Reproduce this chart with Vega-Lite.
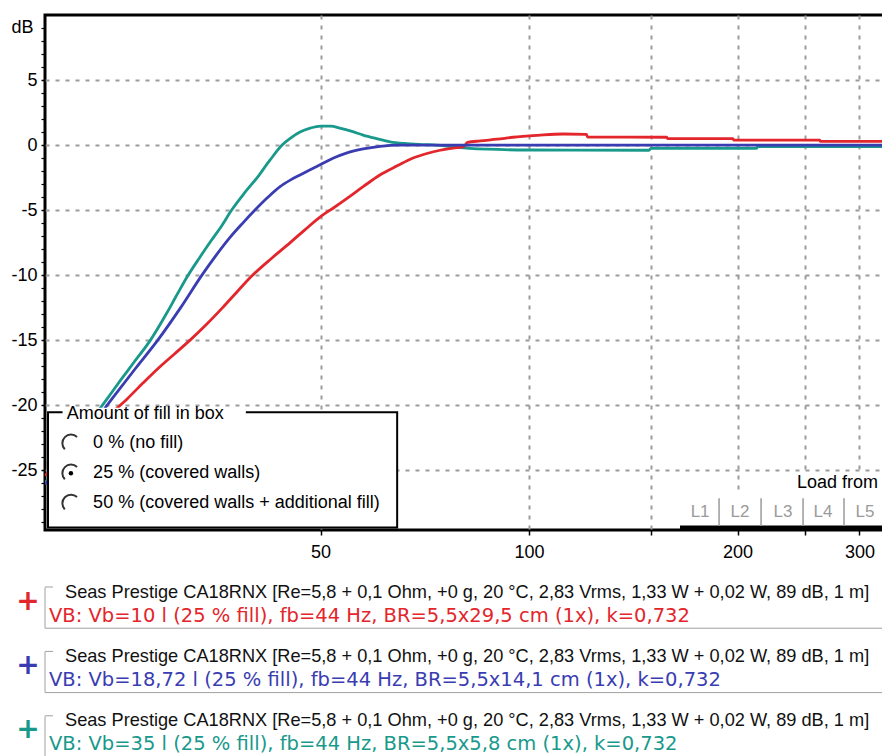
{
  "$schema": "https://vega.github.io/schema/vega-lite/v6.json",
  "width": 840,
  "height": 515,
  "padding": {"left": 45, "top": 15, "right": 0, "bottom": 226},
  "autosize": {"type": "none"},
  "background": "#ffffff",
  "config": {
    "font": "Liberation Sans",
    "view": {"stroke": "#000000", "strokeWidth": 3}
  },
  "datasets": {
    "curves": [
      {"s": "Vb=35 l", "f": 20, "db": -26.0}, {"s": "Vb=35 l", "f": 21, "db": -24.5}, {"s": "Vb=35 l", "f": 22, "db": -23.0},
      {"s": "Vb=35 l", "f": 23.3, "db": -21.2}, {"s": "Vb=35 l", "f": 24.6, "db": -19.5}, {"s": "Vb=35 l", "f": 25.7, "db": -18.1},
      {"s": "Vb=35 l", "f": 26.8, "db": -16.8}, {"s": "Vb=35 l", "f": 28.4, "db": -15.0}, {"s": "Vb=35 l", "f": 30.0, "db": -12.9},
      {"s": "Vb=35 l", "f": 31.1, "db": -11.4}, {"s": "Vb=35 l", "f": 32.2, "db": -10.0}, {"s": "Vb=35 l", "f": 33.4, "db": -8.7},
      {"s": "Vb=35 l", "f": 34.7, "db": -7.4}, {"s": "Vb=35 l", "f": 36.0, "db": -6.2}, {"s": "Vb=35 l", "f": 37.2, "db": -5.0},
      {"s": "Vb=35 l", "f": 38.8, "db": -3.7}, {"s": "Vb=35 l", "f": 40.5, "db": -2.5}, {"s": "Vb=35 l", "f": 42.2, "db": -1.2},
      {"s": "Vb=35 l", "f": 44.0, "db": 0.0}, {"s": "Vb=35 l", "f": 45.3, "db": 0.55}, {"s": "Vb=35 l", "f": 46.7, "db": 1.0},
      {"s": "Vb=35 l", "f": 48.3, "db": 1.3}, {"s": "Vb=35 l", "f": 50.0, "db": 1.46}, {"s": "Vb=35 l", "f": 51.7, "db": 1.45},
      {"s": "Vb=35 l", "f": 53.3, "db": 1.3}, {"s": "Vb=35 l", "f": 55.5, "db": 1.05}, {"s": "Vb=35 l", "f": 57.6, "db": 0.77},
      {"s": "Vb=35 l", "f": 60.2, "db": 0.5}, {"s": "Vb=35 l", "f": 63.0, "db": 0.25}, {"s": "Vb=35 l", "f": 66.0, "db": 0.12},
      {"s": "Vb=35 l", "f": 70.0, "db": 0.04}, {"s": "Vb=35 l", "f": 73.6, "db": 0.0}, {"s": "Vb=35 l", "f": 77.0, "db": -0.12},
      {"s": "Vb=35 l", "f": 82.0, "db": -0.25}, {"s": "Vb=35 l", "f": 87.0, "db": -0.32}, {"s": "Vb=35 l", "f": 100, "db": -0.38},
      {"s": "Vb=35 l", "f": 149, "db": -0.4}, {"s": "Vb=35 l", "f": 150, "db": -0.25}, {"s": "Vb=35 l", "f": 213, "db": -0.25},
      {"s": "Vb=35 l", "f": 214, "db": -0.12}, {"s": "Vb=35 l", "f": 330, "db": -0.12},

      {"s": "Vb=10 l", "f": 20, "db": -25.4}, {"s": "Vb=10 l", "f": 21.5, "db": -23.9}, {"s": "Vb=10 l", "f": 23, "db": -22.4},
      {"s": "Vb=10 l", "f": 24.6, "db": -20.9}, {"s": "Vb=10 l", "f": 26.3, "db": -19.5}, {"s": "Vb=10 l", "f": 27.7, "db": -18.3},
      {"s": "Vb=10 l", "f": 29.1, "db": -17.2}, {"s": "Vb=10 l", "f": 30.7, "db": -16.1}, {"s": "Vb=10 l", "f": 32.4, "db": -15.0},
      {"s": "Vb=10 l", "f": 34.2, "db": -13.8}, {"s": "Vb=10 l", "f": 36.1, "db": -12.5}, {"s": "Vb=10 l", "f": 38.0, "db": -11.2},
      {"s": "Vb=10 l", "f": 39.9, "db": -10.0}, {"s": "Vb=10 l", "f": 42.5, "db": -8.7}, {"s": "Vb=10 l", "f": 45.2, "db": -7.5},
      {"s": "Vb=10 l", "f": 47.5, "db": -6.5}, {"s": "Vb=10 l", "f": 50.0, "db": -5.5}, {"s": "Vb=10 l", "f": 52.3, "db": -4.8},
      {"s": "Vb=10 l", "f": 54.6, "db": -4.1}, {"s": "Vb=10 l", "f": 57.6, "db": -3.2}, {"s": "Vb=10 l", "f": 60.9, "db": -2.3},
      {"s": "Vb=10 l", "f": 64.5, "db": -1.6}, {"s": "Vb=10 l", "f": 68.0, "db": -1.0}, {"s": "Vb=10 l", "f": 71.2, "db": -0.65},
      {"s": "Vb=10 l", "f": 74.4, "db": -0.4}, {"s": "Vb=10 l", "f": 78.7, "db": -0.2}, {"s": "Vb=10 l", "f": 80.5, "db": -0.12},
      {"s": "Vb=10 l", "f": 81.5, "db": 0.2}, {"s": "Vb=10 l", "f": 85, "db": 0.32}, {"s": "Vb=10 l", "f": 90, "db": 0.45},
      {"s": "Vb=10 l", "f": 94.8, "db": 0.6}, {"s": "Vb=10 l", "f": 103, "db": 0.75}, {"s": "Vb=10 l", "f": 112, "db": 0.85},
      {"s": "Vb=10 l", "f": 121, "db": 0.82}, {"s": "Vb=10 l", "f": 121.5, "db": 0.62}, {"s": "Vb=10 l", "f": 158, "db": 0.6},
      {"s": "Vb=10 l", "f": 158.5, "db": 0.5}, {"s": "Vb=10 l", "f": 197, "db": 0.5}, {"s": "Vb=10 l", "f": 197.5, "db": 0.38},
      {"s": "Vb=10 l", "f": 263, "db": 0.38}, {"s": "Vb=10 l", "f": 263.5, "db": 0.28}, {"s": "Vb=10 l", "f": 330, "db": 0.28},

      {"s": "Vb=18,72 l", "f": 20, "db": -26.1}, {"s": "Vb=18,72 l", "f": 21, "db": -24.7}, {"s": "Vb=18,72 l", "f": 22, "db": -23.3},
      {"s": "Vb=18,72 l", "f": 23.5, "db": -21.4}, {"s": "Vb=18,72 l", "f": 25.0, "db": -19.5}, {"s": "Vb=18,72 l", "f": 27.0, "db": -17.2},
      {"s": "Vb=18,72 l", "f": 29.1, "db": -15.0}, {"s": "Vb=18,72 l", "f": 31.4, "db": -12.5}, {"s": "Vb=18,72 l", "f": 33.7, "db": -10.0},
      {"s": "Vb=18,72 l", "f": 35.3, "db": -8.5}, {"s": "Vb=18,72 l", "f": 37.0, "db": -7.1}, {"s": "Vb=18,72 l", "f": 38.6, "db": -6.0},
      {"s": "Vb=18,72 l", "f": 40.2, "db": -5.0}, {"s": "Vb=18,72 l", "f": 42.0, "db": -4.0}, {"s": "Vb=18,72 l", "f": 43.7, "db": -3.2},
      {"s": "Vb=18,72 l", "f": 45.2, "db": -2.7}, {"s": "Vb=18,72 l", "f": 46.7, "db": -2.3}, {"s": "Vb=18,72 l", "f": 48.3, "db": -1.9},
      {"s": "Vb=18,72 l", "f": 50.0, "db": -1.5}, {"s": "Vb=18,72 l", "f": 52.2, "db": -1.0}, {"s": "Vb=18,72 l", "f": 54.6, "db": -0.6},
      {"s": "Vb=18,72 l", "f": 57.6, "db": -0.3}, {"s": "Vb=18,72 l", "f": 60.9, "db": -0.1}, {"s": "Vb=18,72 l", "f": 65, "db": 0.0},
      {"s": "Vb=18,72 l", "f": 330, "db": 0.0}
    ],
    "box": [{"f": 20.2, "f2": 64.5, "db": -20.54, "db2": -29.4}],
    "titlebg": [{"f": 21.2, "f2": 39.0, "db": -20.2, "db2": -20.9}],
    "boxtitle": [{"f": 21.5, "db": -20.65, "t": "Amount of fill in box"}],
    "options": [
      {"f": 23.47, "db": -22.92, "t": "0 % (no fill)"},
      {"f": 23.47, "db": -25.23, "t": "25 % (covered walls)"},
      {"f": 23.47, "db": -27.54, "t": "50 % (covered walls + additional fill)"}
    ],
    "radios": [{"f": 21.8, "db": -22.92}, {"f": 21.8, "db": -25.23}, {"f": 21.8, "db": -27.54}],
    "radiosel": [{"f": 21.8, "db": -25.23}],
    "tabbg": [
      {"f": 238, "f2": 340, "db": -25.2, "db2": -26.9},
      {"f": 165.2, "f2": 340, "db": -26.9, "db2": -29.5}
    ],
    "tabbar": [{"f": 165.2, "f2": 340, "db": -29.25, "db2": -29.6}],
    "tabsep": [
      {"f": 188.1, "db": -27.15, "db2": -29.3}, {"f": 216.3, "db": -27.15, "db2": -29.3},
      {"f": 248.7, "db": -27.15, "db2": -29.3}, {"f": 285.0, "db": -27.15, "db2": -29.3}
    ],
    "tabs": [
      {"f": 176.6, "db": -28.2, "t": "L1"}, {"f": 201.7, "db": -28.2, "t": "L2"}, {"f": 232.7, "db": -28.2, "t": "L3"},
      {"f": 265.8, "db": -28.2, "t": "L4"}, {"f": 305.6, "db": -28.2, "t": "L5"}
    ],
    "loadfrom": [{"f": 243.8, "db": -26.0, "t": "Load from"}],
    "legend": [
      {"e": 1, "s": "Vb=10 l", "head": "Seas Prestige CA18RNX [Re=5,8 + 0,1 Ohm, +0 g, 20 °C, 2,83 Vrms, 1,33 W + 0,02 W, 89 dB, 1 m]", "det": "VB: Vb=10 l (25 % fill), fb=44 Hz, BR=5,5x29,5 cm (1x), k=0,732"},
      {"e": 2, "s": "Vb=18,72 l", "head": "Seas Prestige CA18RNX [Re=5,8 + 0,1 Ohm, +0 g, 20 °C, 2,83 Vrms, 1,33 W + 0,02 W, 89 dB, 1 m]", "det": "VB: Vb=18,72 l (25 % fill), fb=44 Hz, BR=5,5x14,1 cm (1x), k=0,732"},
      {"e": 3, "s": "Vb=35 l", "head": "Seas Prestige CA18RNX [Re=5,8 + 0,1 Ohm, +0 g, 20 °C, 2,83 Vrms, 1,33 W + 0,02 W, 89 dB, 1 m]", "det": "VB: Vb=35 l (25 % fill), fb=44 Hz, BR=5,5x5,8 cm (1x), k=0,732"}
    ]
  },
  "layer": [
    {
      "resolve": {"axis": {"y": "independent"}},
      "layer": [
        {
          "data": {"name": "curves"},
          "mark": {"type": "line", "strokeWidth": 2.8, "clip": true, "interpolate": "monotone"},
          "encoding": {
            "x": {
              "field": "f", "type": "quantitative",
              "scale": {"type": "log", "domain": [20, 326.6], "nice": false},
              "axis": {
                "title": null,
                "values": [50, 100, 150, 200, 250, 300],
                "labelExpr": "datum.value == 150 || datum.value == 250 ? '' : '' + datum.value",
                "labelFont": "Liberation Sans", "labelFontSize": 18, "labelColor": "#000000", "labelPadding": 8,
                "labelOverlap": false,
                "tickSize": 5, "tickColor": "#000000", "tickWidth": 1.5,
                "domain": false,
                "grid": true, "gridColor": "#9c9c9c", "gridDash": [4, 6], "gridWidth": 2
              }
            },
            "y": {
              "field": "db", "type": "quantitative",
              "scale": {"domain": [-29.6, 10], "nice": false, "zero": false},
              "axis": {
                "orient": "left",
                "title": "dB", "titleAngle": 0, "titleX": -34, "titleY": 12, "titleAlign": "left", "titleBaseline": "middle",
                "titleFont": "Liberation Sans", "titleFontSize": 18, "titleFontWeight": "normal", "titleColor": "#000000",
                "values": [-25, -20, -15, -10, -5, 0, 5],
                "labelExpr": "'' + datum.value",
                "labelFont": "Liberation Sans", "labelFontSize": 18, "labelColor": "#000000", "labelPadding": 4,
                "labelOverlap": false,
                "tickSize": 4, "tickColor": "#000000", "tickWidth": 1.5,
                "domain": false,
                "grid": true, "gridColor": "#9c9c9c", "gridDash": [4, 6], "gridWidth": 2
              }
            },
            "color": {
              "field": "s", "type": "nominal",
              "scale": {"domain": ["Vb=10 l", "Vb=18,72 l", "Vb=35 l"], "range": ["#e3262b", "#3a3db2", "#18998b"]},
              "legend": null
            }
          }
        },
        {
          "data": {"name": "box"},
          "mark": {"type": "rect", "fill": "#ffffff", "stroke": "#000000", "strokeWidth": 2},
          "encoding": {
            "x": {"field": "f", "type": "quantitative"}, "x2": {"field": "f2"},
            "y": {
              "field": "db", "type": "quantitative",
              "axis": {
                "orient": "left", "offset": 0, "title": null, "labels": false, "grid": false, "domain": false,
                "values": [-29, -28, -27, -26, -24, -23, -22, -21, -19, -18, -17, -16, -14, -13, -12, -11, -9, -8, -7, -6, -4, -3, -2, -1, 1, 2, 3, 4, 6, 7, 8, 9],
                "tickSize": 4, "tickColor": "#000000", "tickWidth": 1.2
              }
            },
            "y2": {"field": "db2"}
          }
        },
        {
          "data": {"name": "titlebg"},
          "mark": {"type": "rect", "fill": "#ffffff", "strokeWidth": 0},
          "encoding": {
            "x": {"field": "f", "type": "quantitative"}, "x2": {"field": "f2"},
            "y": {"field": "db", "type": "quantitative", "axis": null}, "y2": {"field": "db2"}
          }
        },
        {
          "data": {"name": "boxtitle"},
          "mark": {"type": "text", "align": "left", "baseline": "middle", "fontSize": 18, "color": "#000000"},
          "encoding": {
            "x": {"field": "f", "type": "quantitative"}, "y": {"field": "db", "type": "quantitative", "axis": null},
            "text": {"field": "t"}
          }
        },
        {
          "data": {"name": "options"},
          "mark": {"type": "text", "align": "left", "baseline": "middle", "fontSize": 18, "color": "#000000"},
          "encoding": {
            "x": {"field": "f", "type": "quantitative"}, "y": {"field": "db", "type": "quantitative", "axis": null},
            "text": {"field": "t"}
          }
        },
        {
          "data": {"name": "radios"},
          "mark": {"type": "point", "shape": "M 0.707 -0.707 A 1 1 0 0 0 -0.707 0.707", "size": 300, "filled": false, "stroke": "#333333", "strokeWidth": 2, "opacity": 1},
          "encoding": {"x": {"field": "f", "type": "quantitative"}, "y": {"field": "db", "type": "quantitative", "axis": null}}
        },
        {
          "data": {"name": "radiosel"},
          "mark": {"type": "point", "shape": "circle", "size": 20, "filled": true, "color": "#000000", "opacity": 1},
          "encoding": {"x": {"field": "f", "type": "quantitative"}, "y": {"field": "db", "type": "quantitative", "axis": null}}
        },
        {
          "data": {"name": "tabbg"},
          "mark": {"type": "rect", "fill": "#ffffff", "strokeWidth": 0},
          "encoding": {
            "x": {"field": "f", "type": "quantitative"}, "x2": {"field": "f2"},
            "y": {"field": "db", "type": "quantitative", "axis": null}, "y2": {"field": "db2"}
          }
        },
        {
          "data": {"name": "tabbar"},
          "mark": {"type": "rect", "fill": "#000000", "strokeWidth": 0},
          "encoding": {
            "x": {"field": "f", "type": "quantitative"}, "x2": {"field": "f2"},
            "y": {"field": "db", "type": "quantitative", "axis": null}, "y2": {"field": "db2"}
          }
        },
        {
          "data": {"name": "tabsep"},
          "mark": {"type": "rule", "color": "#9a9a9a", "strokeWidth": 1.5},
          "encoding": {
            "x": {"field": "f", "type": "quantitative"},
            "y": {"field": "db", "type": "quantitative", "axis": null}, "y2": {"field": "db2"}
          }
        },
        {
          "data": {"name": "tabs"},
          "mark": {"type": "text", "align": "center", "baseline": "middle", "fontSize": 17, "color": "#9a9a9a"},
          "encoding": {
            "x": {"field": "f", "type": "quantitative"}, "y": {"field": "db", "type": "quantitative", "axis": null},
            "text": {"field": "t"}
          }
        },
        {
          "data": {"name": "loadfrom"},
          "mark": {"type": "text", "align": "left", "baseline": "middle", "fontSize": 18, "color": "#000000"},
          "encoding": {
            "x": {"field": "f", "type": "quantitative"}, "y": {"field": "db", "type": "quantitative", "axis": null},
            "text": {"field": "t"}
          }
        }
      ]
    },
    {
      "data": {"name": "legend"},
      "encoding": {
        "y": {
          "field": "e", "type": "ordinal",
          "scale": {"type": "band", "range": [572, 742], "paddingInner": 0.36, "paddingOuter": 0},
          "axis": null
        }
      },
      "layer": [
        {
          "mark": {"type": "rect", "filled": false, "stroke": "#a0a0a0", "strokeWidth": 1, "strokeDash": [8, 832, 922]}
        },
        {
          "mark": {"type": "text", "text": "+", "align": "center", "baseline": "middle", "dx": -437, "dy": -6, "font": "DejaVu Sans", "fontWeight": "bold", "fontSize": 28},
          "encoding": {"color": {"field": "s", "type": "nominal", "legend": null}}
        },
        {
          "mark": {"type": "text", "align": "left", "baseline": "middle", "dx": -400, "dy": -15, "font": "Liberation Sans", "fontSize": 18.2, "color": "#111111"},
          "encoding": {"text": {"field": "head"}}
        },
        {
          "mark": {"type": "text", "align": "left", "baseline": "middle", "dx": -416, "dy": 8, "font": "DejaVu Sans", "fontSize": 19.5},
          "encoding": {
            "text": {"field": "det"},
            "color": {"field": "s", "type": "nominal", "legend": null}
          }
        }
      ]
    }
  ],
  "resolve": {"scale": {"y": "independent"}}
}
